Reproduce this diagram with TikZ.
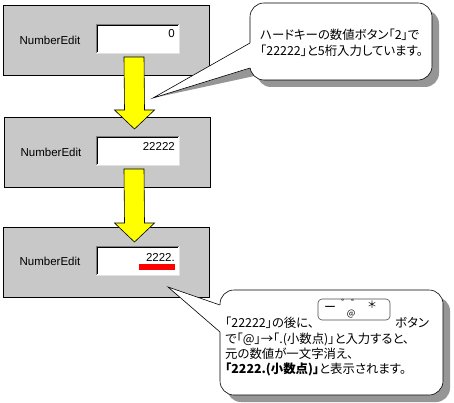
\documentclass[tikz,border=0pt]{standalone}
\usepackage{fontspec}
\setmainfont{Liberation Sans}
\newfontfamily\jp[RawFeature=+palt]{Noto Sans CJK JP}
\newfontfamily\jpfull{Noto Sans CJK JP}
\definecolor{panelgray}{RGB}{200,200,200}
\definecolor{shadowgray}{RGB}{150,150,150}
\definecolor{bevdark}{RGB}{128,128,128}
\definecolor{bevlight}{RGB}{225,225,225}
\definecolor{arrowyellow}{RGB}{255,255,0}
\newcommand\arrowpath[2]{([shift={(-10,0)}]#1) -- ([shift={(10,0)}]#1) -- ([shift={(10,-19)}]#2) -- ([shift={(20,-19)}]#2) -- (#2) -- ([shift={(-20,-19)}]#2) -- ([shift={(-10,-19)}]#2) -- cycle}
\begin{document}
\begin{tikzpicture}[x=1pt,y=-1pt,
  panel/.style={draw=black, line width=0.8pt, fill=panelgray, minimum width=206pt, minimum height=70pt, inner sep=0pt},
  field/.style={fill=white, minimum width=83pt, minimum height=29pt, inner sep=0pt},
  lbl/.style={font=\fontsize{11.5}{13}\selectfont, inner sep=0pt},
  val/.style={font=\fontsize{11.5}{13}\selectfont, inner sep=0pt, anchor=east},
  jtxt/.style={font=\jp\fontsize{12.4}{14}\selectfont, inner sep=0pt, anchor=west},
  key/.style={inner sep=0pt},
  bubble/.style={fill=white, draw=black, line width=0.6pt, rounded corners=14pt},
  fat/.style={fill=arrowyellow, draw=black, line width=0.6pt}]
\useasboundingbox[fill=white] (0,0) rectangle (454,403);

% panels
\node[panel] (p1) at (106,40) {};
\node[panel] (p2) at (107,152) {};
\node[panel] (p3) at (106,262) {};
\foreach \f/\y in {f1/38.5, f2/150.5, f3/260.5} {
  \node[field] (\f) at (137.5,\y) {};
  \draw[bevdark] (\f.south west) -- (\f.north west) -- (\f.north east);
  \draw[black] ([shift={(1,-1)}]\f.south west) -- ([shift={(1,1)}]\f.north west) -- ([shift={(-1,1)}]\f.north east);
  \draw[bevlight] (\f.south west) -- (\f.south east) -- (\f.north east);
}
\node[lbl] (l1) at (50,40) {NumberEdit};
\node[lbl] (l2) at (51,152) {NumberEdit};
\node[lbl] (l3) at (50,261) {NumberEdit};
\node[val] (v1) at (175,34) {0};
\node[val] (v2) at (175,146) {22222};
\node[val] (v3) at (175,257) {2222.};
\fill[red] (139,264) rectangle (175,270);

% arrows
\coordinate (a1s) at (134,57);
\coordinate (a1e) at (134.5,129);
\coordinate (a2s) at (134,169);
\coordinate (a2e) at (134.5,242);
\begin{scope}[shift={(3,3)}]
  \fill[shadowgray] \arrowpath{a1s}{a1e};
  \fill[shadowgray] \arrowpath{a2s}{a2e};
\end{scope}
\path[fat] \arrowpath{a1s}{a1e};
\path[fat] \arrowpath{a2s}{a2e};

% callout 1
\coordinate (t1) at (153,98);
\begin{scope}[shift={(7,7)}]
  \fill[shadowgray, rounded corners=14pt] (250,3) rectangle (432,80);
  \fill[shadowgray] (t1) -- (252,43) -- (252,68) -- cycle;
\end{scope}
\path[bubble] (250,3) rectangle (432,80);
\fill[white] (t1) -- (250,43) -- (253,43) -- (253,68) -- (250,68) -- cycle;
\draw[line width=0.6pt] (250,43) -- (t1) -- (250,68);
\node[jtxt] (c1a) at (260,35) {ハードキーの数値ボタン「2」で};
\node[jtxt] (c1b) at (260,50.5) {「22222」と5桁入力しています。};

% callout 2
\coordinate (t2) at (168,287);
\begin{scope}[shift={(7,7)}]
  \fill[shadowgray, rounded corners=14pt] (220,290) rectangle (443,395);
  \fill[shadowgray] (t2) -- (222,305) -- (222,332) -- cycle;
\end{scope}
\path[bubble] (220,290) rectangle (443,395);
\fill[white] (t2) -- (220,305) -- (223,305) -- (223,332) -- (220,332) -- cycle;
\draw[line width=0.6pt] (220,305) -- (t2) -- (220,332);
\node[jtxt] (c2a) at (225,323) {「22222」の後に、};
\node[draw=black!70, fill=white, rounded corners=4pt, line width=0.6pt, minimum width=72pt, minimum height=21pt, inner sep=0pt] (btn) at (354,309.5) {};
\node[key, font=\jpfull\fontsize{12}{12}\selectfont] (k1) at (330,309) {ー};
\node[key, font=\jpfull\fontsize{10}{10}\selectfont] (k2) at (351,303.5) {゛゜};
\node[key, font=\jpfull\fontsize{9}{9}\selectfont] (k3) at (351,314) {@};
\node[key, font=\jpfull\fontsize{10}{10}\selectfont] (k4) at (372,305) {＊};
\node[jtxt] (c2b) at (395,323) {ボタン};
\node[jtxt] (c2c) at (225,339) {で「@」→「.(小数点)」と入力すると、};
\node[jtxt] (c2d) at (225,354) {元の数値が一文字消え、};
\node[jtxt] (c2e) at (225,369) {\textbf{「2222.(小数点)」}と表示されます。};
\end{tikzpicture}
\end{document}
